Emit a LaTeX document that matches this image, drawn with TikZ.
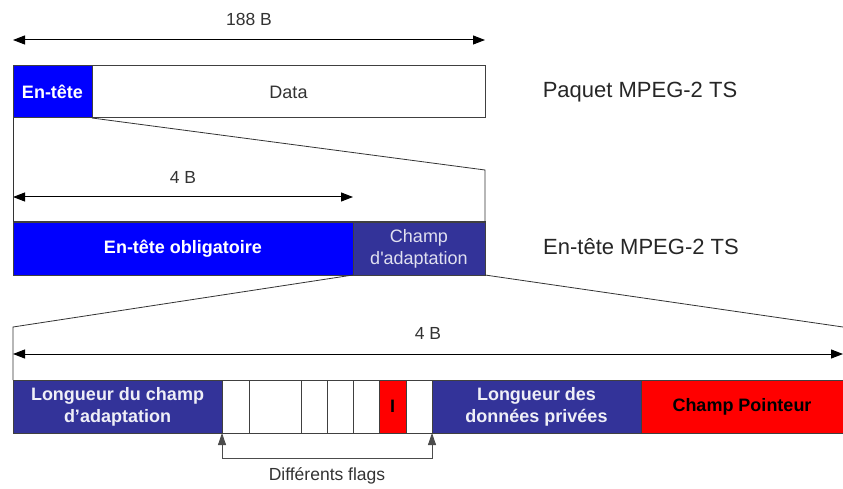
\documentclass[tikz,border=0pt]{standalone}
\usepackage{fontspec}
\setmainfont{Liberation Sans}
\usetikzlibrary{arrows.meta}
\definecolor{hblue}{RGB}{0,0,255}
\definecolor{navy}{RGB}{51,51,153}
\definecolor{fred}{RGB}{255,0,0}
\definecolor{edge}{RGB}{64,64,64}
\begin{document}
\begin{tikzpicture}[x=1pt,y=-1pt,
  cell/.style={draw=edge, line width=1pt, rectangle, inner sep=0pt, outer sep=0pt, align=center},
  boldtext/.style={font=\fontsize{18}{22}\selectfont\bfseries},
  bluecell/.style={cell, fill=hblue, text=white, boldtext},
  navycell/.style={cell, fill=navy, text=white!92!navy, boldtext},
  redcell/.style={cell, fill=fred, text=black, boldtext},
  whitecell/.style={cell, fill=white, text=black!80, font=\fontsize{18}{22}\selectfont},
  dim/.style={line width=1pt, {Triangle[length=12pt,width=9pt]}-{Triangle[length=12pt,width=9pt]}},
  zoomline/.style={line width=0.8pt, draw=black!80},
  lbl/.style={font=\fontsize{17.5}{20}\selectfont, text=black!80},
  biglbl/.style={font=\fontsize{22}{26}\selectfont, text=black!85}]
\useasboundingbox (0,0) rectangle (843,489);

% MPEG-2 TS packet
\node[bluecell, minimum width=79pt, minimum height=52pt] (hdr) at (52.5,92) {En-tête};
\node[whitecell, minimum width=393pt, minimum height=52pt] (data) at (288.5,92) {Data};
\node[biglbl] (lpkt) at (640,92) {Paquet MPEG-2 TS};

% Packet length
\coordinate (a1l) at (13,40);
\coordinate (a1r) at (485,40);
\draw[dim] (a1l) -- (a1r);
\node[lbl] (t188) at (249,19) {188 B};

% TS header
\node[bluecell, minimum width=340pt, minimum height=53pt] (oblig) at (183,248.5) {En-tête obligatoire};
\node[navycell, minimum width=132pt, minimum height=53pt, font=\fontsize{18}{22}\selectfont, text=white!85!navy] (adapt) at (419,248.5) {Champ\\d\textquotesingle adaptation};
\node[biglbl] (lhdr) at (641,247) {En-tête MPEG-2 TS};

% Header length
\coordinate (a2l) at (13,197);
\coordinate (a2r) at (353,197);
\draw[dim] (a2l) -- (a2r);
\node[lbl] (t4a) at (183,177) {4 B};

% Zoom from packet header to TS header
\coordinate (k1) at (485,170);
\draw[zoomline] (hdr.south west) -- (oblig.north west);
\draw[zoomline] (hdr.south east) -- (k1) -- (adapt.north east);

% Adaptation field
\node[navycell, minimum width=209pt, minimum height=53pt] (lenad) at (117.5,406.5) {Longueur du champ\\d'adaptation};
\node[whitecell, minimum width=27pt, minimum height=53pt] (f1) at (235.5,406.5) {};
\node[whitecell, minimum width=52pt, minimum height=53pt] (f2) at (275,406.5) {};
\node[whitecell, minimum width=26pt, minimum height=53pt] (f3) at (314,406.5) {};
\node[whitecell, minimum width=26pt, minimum height=53pt] (f4) at (340,406.5) {};
\node[whitecell, minimum width=26pt, minimum height=53pt] (f5) at (366,406.5) {};
\node[redcell, minimum width=27pt, minimum height=53pt] (fi) at (392.5,406.5) {I};
\node[whitecell, minimum width=26pt, minimum height=53pt] (f7) at (419,406.5) {};
\node[navycell, minimum width=209pt, minimum height=53pt] (priv) at (536.5,406.5) {Longueur des\\données privées};
\node[redcell, minimum width=202pt, minimum height=53pt] (ptr) at (742,406.5) {Champ Pointeur};

% Zoom from adaptation field
\coordinate (k2) at (13,327);
\coordinate (k3) at (843,327);
\draw[zoomline] (adapt.south west) -- (k2) -- (lenad.north west);
\draw[zoomline] (adapt.south east) -- (k3);

% Adaptation field length
\coordinate (a3l) at (13,354);
\coordinate (a3r) at (843,354);
\draw[dim] (a3l) -- (a3r);
\node[lbl] (t4b) at (428,333) {4 B};

% Flags bracket
\coordinate (b1) at (222,458);
\coordinate (b2) at (432,458);
\draw[line width=0.8pt, draw=black!70, {Triangle[length=12pt,width=8pt]}-{Triangle[length=12pt,width=8pt]}] (lenad.south east) -- (b1) -- (b2) -- (priv.south west);
\node[lbl] (tflags) at (327,476) {Différents flags};
\end{tikzpicture}
\end{document}
